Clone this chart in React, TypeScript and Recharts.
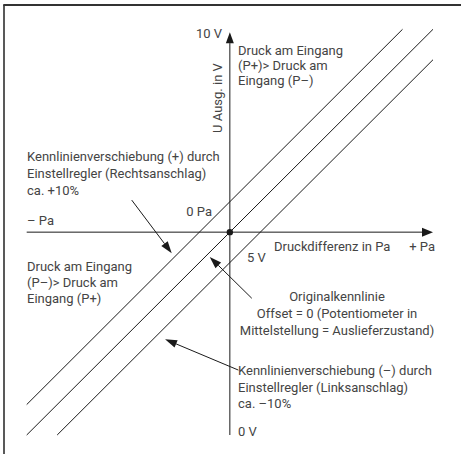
import { LineChart, Line, XAxis, YAxis, ReferenceLine, ReferenceDot } from 'recharts'

// Druckdifferenz (x, -10..10) gegen U Ausg. (y, 0..10 V)
const plusLine = [{ x: -10, y: 0.75 }, { x: 8.5, y: 10 }]
const originalLine = [{ x: -10, y: 0 }, { x: 10, y: 10 }]
const minusLine = [{ x: -8.5, y: 0 }, { x: 10, y: 9.25 }]

const xAxisSeg = [{ x: -10, y: 5 }, { x: 10, y: 5 }]
const yAxisSeg = [{ x: 0, y: 0 }, { x: 0, y: 9.93 }]

// Hinweispfeile: [Start, Spitze]
const arrowPlus = [{ x: -4.83, y: 5.79 }, { x: -2.86, y: 4.48 }]
const arrowOrig = [{ x: 1.08, y: 3.37 }, { x: -0.99, y: 4.39 }]
const arrowMinus = [{ x: 0.42, y: 1.6 }, { x: -3.19, y: 2.36 }]

const ink = '#1a1a1a'
const txt = '#444'

const arrowShape = (len: number, w: number) => (p: any) => {
  const { x1, y1, x2, y2 } = p
  const a = Math.atan2(y2 - y1, x2 - x1)
  const bx = x2 - len * Math.cos(a)
  const by = y2 - len * Math.sin(a)
  const s = Math.sin(a), c = Math.cos(a)
  const pts = `${x2},${y2} ${bx + w * s},${by - w * c} ${bx - w * s},${by + w * c}`
  return (
    <g>
      <line x1={x1} y1={y1} x2={bx} y2={by} stroke={ink} strokeWidth={1} />
      <polygon points={pts} fill={ink} />
    </g>
  )
}

const T = (props: any) => (
  <text fontFamily="Roboto, sans-serif" fontSize={13} fill={txt} {...props} />
)

export default function App() {
  return (
    <div style={{ position: 'absolute', left: 0, top: 0, width: 461, height: 454, background: '#fff' }}>
      <LineChart width={461} height={454} margin={{ top: 29.3, left: 26.7, right: 28, bottom: 19 }}>
        <XAxis type="number" dataKey="x" domain={[-10, 10]} hide />
        <YAxis type="number" dataKey="y" domain={[0, 10]} hide />
        <ReferenceLine segment={xAxisSeg} ifOverflow="visible" shape={arrowShape(11, 4.5)} />
        <ReferenceLine segment={yAxisSeg} ifOverflow="visible" shape={arrowShape(11, 4)} />
        <Line data={plusLine} dataKey="y" stroke={ink} strokeWidth={1} dot={false} isAnimationActive={false} />
        <Line data={originalLine} dataKey="y" stroke={ink} strokeWidth={1} dot={false} isAnimationActive={false} />
        <Line data={minusLine} dataKey="y" stroke={ink} strokeWidth={1} dot={false} isAnimationActive={false} />
        <ReferenceLine segment={arrowPlus} ifOverflow="visible" shape={arrowShape(12, 4)} />
        <ReferenceLine segment={arrowOrig} ifOverflow="visible" shape={arrowShape(12, 4)} />
        <ReferenceLine segment={arrowMinus} ifOverflow="visible" shape={arrowShape(12, 4)} />
        <ReferenceDot x={0} y={5} r={3.2} fill={ink} stroke="none" ifOverflow="visible" />
      </LineChart>
      <svg width={461} height={454} style={{ position: 'absolute', left: 0, top: 0, pointerEvents: 'none' }}>
        <line x1={4} y1={5} x2={4} y2={454} stroke="#222" strokeWidth={1.5} />
        <line x1={3.25} y1={5} x2={461} y2={5} stroke="#333" strokeWidth={2} />

        <T x={222} y={38} textAnchor="end">10 V</T>
        <T transform="translate(222,98) rotate(-90)" textAnchor="middle">U Ausg. in V</T>
        <T x={238} y={55}>Druck am Eingang</T>
        <T x={238} y={70}>(P+)&gt; Druck am</T>
        <T x={238} y={85}>Eingang (P–)</T>

        <T x={27} y={161}>Kennlinienverschiebung (+) durch</T>
        <T x={27} y={178}>Einstellregler (Rechtsanschlag)</T>
        <T x={27} y={195}>ca. +10%</T>

        <T x={212} y={216} textAnchor="end">0 Pa</T>
        <T x={27} y={224.5}>– Pa</T>
        <T x={274} y={251}>Druckdifferenz in Pa</T>
        <T x={435} y={251} textAnchor="end">+ Pa</T>
        <T x={247} y={262}>5 V</T>

        <T x={27} y={271}>Druck am Eingang</T>
        <T x={27} y={287}>(P–)&gt; Druck am</T>
        <T x={27} y={303}>Eingang (P+)</T>

        <T x={337} y={301} textAnchor="middle">Originalkennlinie</T>
        <T x={337} y={318} textAnchor="middle">Offset = 0 (Potentiometer in</T>
        <T x={337} y={334.5} textAnchor="middle">Mittelstellung = Auslieferzustand)</T>

        <T x={238} y={374.5}>Kennlinienverschiebung (–) durch</T>
        <T x={238} y={391.5}>Einstellregler (Linksanschlag)</T>
        <T x={238} y={407.5}>ca. –10%</T>
        <T x={238} y={436}>0 V</T>
      </svg>
    </div>
  )
}
